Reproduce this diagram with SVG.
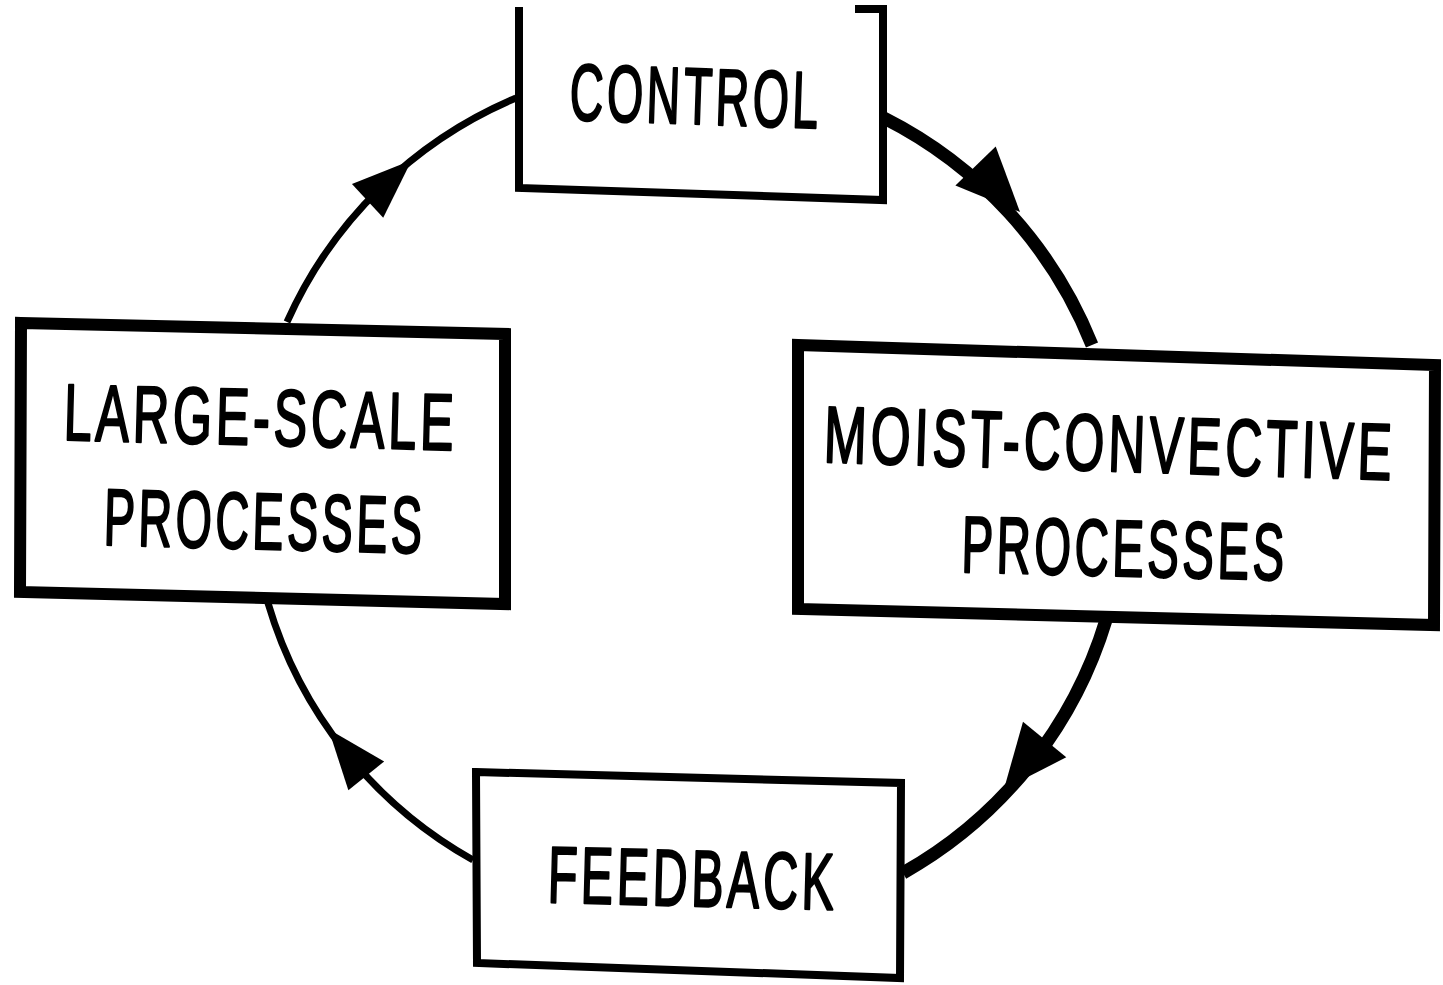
<svg xmlns="http://www.w3.org/2000/svg" width="1443" height="985" viewBox="0 0 1443 985">
  <defs>
    <style>
      .box { fill: #fff; stroke: #000; stroke-linejoin: miter; }
      .heavy { stroke-width: 12; }
      .light { stroke-width: 8; }
      .label { font-family: "Liberation Sans", Arial, sans-serif; font-size: 80px; letter-spacing: 6px; fill: #000; stroke: #000; stroke-width: 2.4; stroke-linejoin: round; text-anchor: middle; }
      .flow { fill: none; stroke: #000; stroke-linecap: butt; }
      .thin { stroke-width: 7; }
      .thick { stroke-width: 13; }
    </style>
    <!-- filled triangular heads, tip at the origin pointing along +x -->
    <path id="headThick" d="M0,0 L-64,-28 L-64,28 Z" fill="#000"/>
    <path id="headThin" d="M0,0 L-60,-23 L-60,23 Z" fill="#000"/>
  </defs>

  <rect width="1443" height="985" fill="#fff"/>

  <!-- circular cycle of arcs linking the four boxes -->
  <g id="connectors">
    <path class="flow thin" d="M287,322 A435,435 0 0 1 516,98"/>
    <path class="flow thick" d="M884,118 A435,435 0 0 1 1092,345"/>
    <path class="flow thick" d="M1106,620 A435,435 0 0 1 903,873"/>
    <path class="flow thin" d="M473,860 A435,435 0 0 1 268,603"/>
    <use href="#headThin" transform="translate(411.6,160.2) rotate(-42.8)"/>
    <use href="#headThick" transform="translate(1020,212) rotate(46)"/>
    <use href="#headThick" transform="translate(1004,789) rotate(129.4)"/>
    <use href="#headThin" transform="translate(328.6,729.2) rotate(231.1)"/>
  </g>

  <!-- labels use narrow condensed lettering: rotated slightly, squeezed horizontally -->
  <g id="control">
    <path class="box light" d="M519,7 L519,188 L883,200 L883,9 L855,9"/>
    <text class="label" x="0" y="0" textLength="433" lengthAdjust="spacingAndGlyphs" transform="translate(695 124) rotate(1.9) scale(0.582 1)">CONTROL</text>
  </g>

  <g id="large-scale">
    <path class="box heavy" d="M21,323 L505,334 L505,604 L20,592 Z"/>
    <text class="label" x="0" y="0" textLength="626" lengthAdjust="spacingAndGlyphs" transform="translate(260 445) rotate(1.5) scale(0.629 1)">LARGE-SCALE</text>
    <text class="label" x="0" y="0" textLength="552" lengthAdjust="spacingAndGlyphs" transform="translate(264 549) rotate(1.5) scale(0.583 1)">PROCESSES</text>
  </g>

  <g id="moist-convective">
    <path class="box heavy" d="M798,345 L1435,365 L1434,625 L798,609 Z"/>
    <text class="label" x="0" y="0" textLength="896" lengthAdjust="spacingAndGlyphs" transform="translate(1109 471) rotate(1.8) scale(0.638 1)">MOIST-CONVECTIVE</text>
    <text class="label" x="0" y="0" textLength="552" lengthAdjust="spacingAndGlyphs" transform="translate(1124 576) rotate(1.4) scale(0.591 1)">PROCESSES</text>
  </g>

  <g id="feedback">
    <path class="box light" d="M476,772 L901,783 L900,978 L477,963 Z"/>
    <text class="label" x="0" y="0" textLength="479" lengthAdjust="spacingAndGlyphs" transform="translate(692 906) rotate(1.5) scale(0.605 1)">FEEDBACK</text>
  </g>
</svg>
